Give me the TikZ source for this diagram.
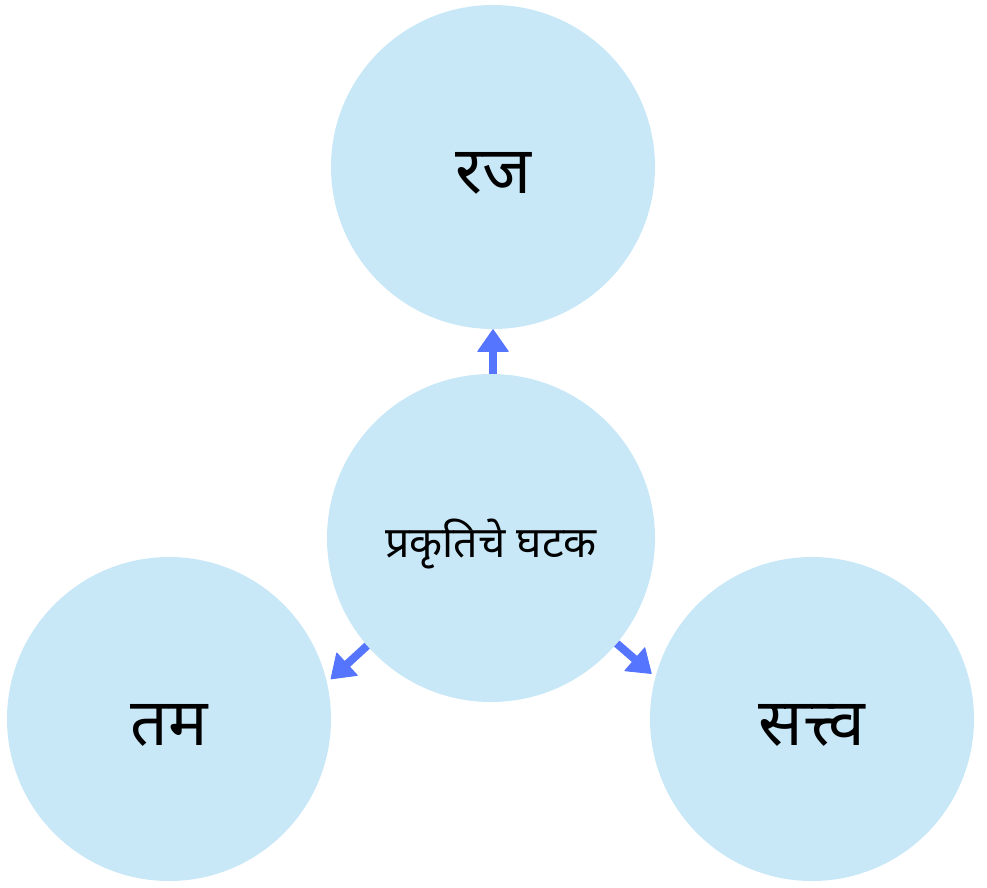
\documentclass[tikz,border=0pt]{standalone}
\usepackage{fontspec}
\newfontfamily\deva[Script=Devanagari]{Noto Sans}
\usetikzlibrary{arrows.meta}
\definecolor{circfill}{RGB}{200,232,248}
\definecolor{arrowblue}{RGB}{85,117,255}
\newcommand{\dropdown}[1]{\raisebox{-6pt}[\height][\depth]{#1}}
\tikzset{
  guna/.style={circle, fill=circfill, minimum size=324pt, inner sep=0pt, font=\deva\fontsize{66}{70}\selectfont},
  hub/.style={circle, fill=circfill, minimum size=328pt, inner sep=0pt, font=\deva\fontsize{43}{48}\selectfont},
  link/.style={draw=arrowblue, line width=8pt, -{Triangle[width=32pt,length=23pt,line width=1pt,round]}}
}
\begin{document}
\begin{tikzpicture}[x=1pt,y=-1pt]
\useasboundingbox (0,0) rectangle (987,887);
\node[guna] (raj) at (493,167) {\dropdown{रज}};
\node[hub] (prak) at (491,538) {\dropdown{प्रकृतिचे घटक}};
\node[guna] (tam) at (169,719) {\dropdown{तम}};
\node[guna] (sat) at (812,719) {\dropdown{सत्त्व}};
\draw[link] (prak.north -| raj.south) -- (raj.south);
\draw[link, shorten >=5pt] (prak.221.5) -- (tam.13);
\draw[link, shorten >=5pt] (prak.-40) -- (sat.165);
\end{tikzpicture}
\end{document}
